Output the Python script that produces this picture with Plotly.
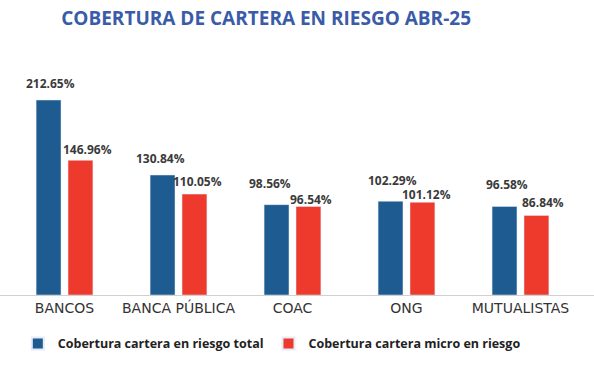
import plotly.graph_objects as go

categories = ["BANCOS", "BANCA PÚBLICA", "COAC", "ONG", "MUTUALISTAS"]
total = [212.65, 130.84, 98.56, 102.29, 96.58]
micro = [146.96, 110.05, 96.54, 101.12, 86.84]
series_names = ["Cobertura cartera en riesgo total", "Cobertura cartera micro en riesgo"]

# label placement (pixel offsets of each value label from its bar top centre)
total_lbl_dx = [1.5, -2, -7, 2, 3]
total_lbl_dy = [17, 17, 21, 21, 22]
micro_lbl_dx = [6.5, 3, 2, 4, 6.5]
micro_lbl_dy = [11, 13, 7, 8, 13]

colors = ["#1D5B90", "#EE3A2D"]
lbl_font = dict(family="Open Sans", size=12, color="#3A3A3A", weight="bold")

fig = go.Figure()
fig.add_trace(go.Bar(x=categories, y=total, name=series_names[0], marker_color=colors[0]))
fig.add_trace(go.Bar(x=categories, y=micro, name=series_names[1], marker_color=colors[1]))

for vals, dxs, dys, off in [(total, total_lbl_dx, total_lbl_dy, -16),
                            (micro, micro_lbl_dx, micro_lbl_dy, 16)]:
    for c, v, dx, dy in zip(categories, vals, dxs, dys):
        fig.add_annotation(x=c, y=v, xref="x", yref="y", text=f"{v:.2f}%",
                           showarrow=False, xanchor="center", yanchor="middle",
                           xshift=off + dx, yshift=dy, font=lbl_font)

fig.update_layout(
    width=594, height=367,
    margin=dict(l=0, r=0, t=60, b=72, autoexpand=False),
    paper_bgcolor="white", plot_bgcolor="white",
    title=dict(text="<b>COBERTURA DE CARTERA EN RIESGO ABR-25</b>", x=0.448, xanchor="center",
               y=0.951, yanchor="middle",
               font=dict(family="Open Sans", size=19, color="#3A5BA8")),
    barmode="group", bargap=0.44, bargroupgap=0.22,
    xaxis=dict(showline=True, linecolor="#D0D0D0", linewidth=1, ticks="",
               range=[-0.566, 4.645],
               tickfont=dict(family="DejaVu Sans", size=14, color="#333333")),
    yaxis=dict(range=[0, 256.3], visible=False, showgrid=False),
    legend=dict(orientation="h", x=0.03, xanchor="left", yref="container", y=0.063, yanchor="middle",
                font=dict(family="Open Sans", size=12.5, color="#222222", weight="bold"),
                itemsizing="constant", itemwidth=30, tracegroupgap=0),
    showlegend=True,
)
fig.write_html("out.html", config={"displayModeBar": False},
               post_script="document.body.style.margin='0';")
